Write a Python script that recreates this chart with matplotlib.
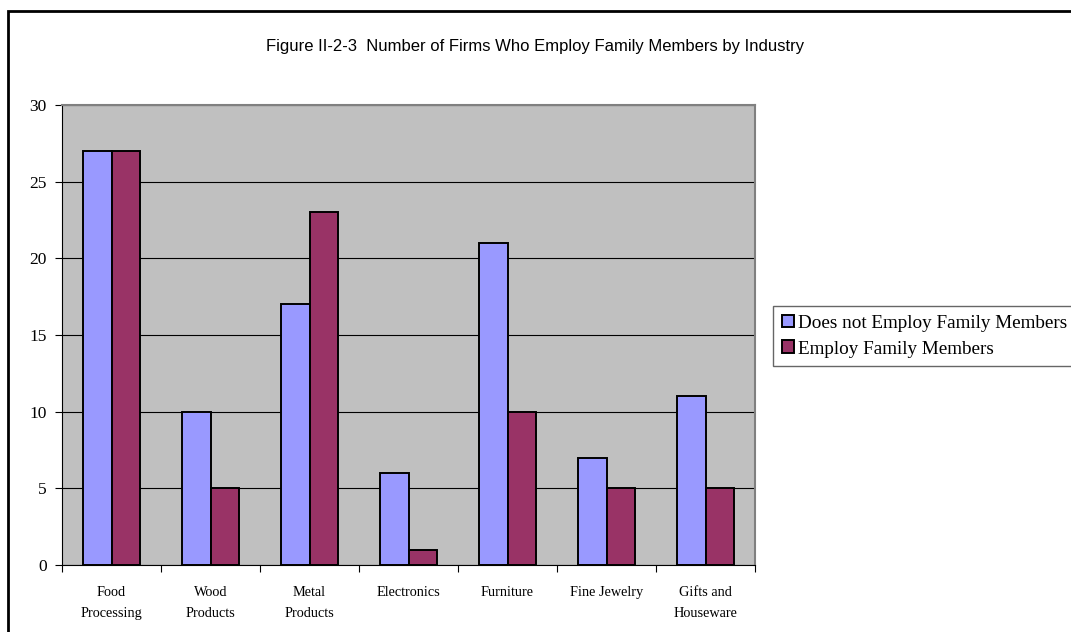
import numpy as np
import matplotlib
matplotlib.use("Agg")
import matplotlib.pyplot as plt
from matplotlib.patches import Rectangle

industries = ["Food\nProcessing", "Wood\nProducts", "Metal\nProducts", "Electronics",
              "Furniture", "Fine Jewelry", "Gifts and\nHouseware"]
not_employ = [27, 10, 17, 6, 21, 7, 11]
employ = [27, 5, 23, 1, 10, 5, 5]
series_names = ["Does not Employ Family Members", "Employ Family Members"]

serif = ["Liberation Serif", "DejaVu Serif"]
sans = ["Liberation Sans", "DejaVu Sans"]

fig = plt.figure(figsize=(10.71, 6.32), dpi=100)
ax = fig.add_axes([0.0579, 0.106, 0.6471, 0.728])

x = np.arange(len(industries))
w = 0.285
b1 = ax.bar(x - w / 2, not_employ, w, color="#9999FF", edgecolor="black", linewidth=1.4,
            label=series_names[0], zorder=3)
b2 = ax.bar(x + w / 2, employ, w, color="#993366", edgecolor="black", linewidth=1.4,
            label=series_names[1], zorder=3)

ax.set_facecolor("#C0C0C0")
ax.set_xlim(-0.5, len(industries) - 0.5)
ax.set_ylim(0, 30)
ax.set_yticks(range(0, 31, 5))
ax.yaxis.grid(True, color="black", linewidth=0.8, zorder=1)
ax.set_axisbelow(True)

# category boundaries carry the tick marks, labels sit at centres
ax.set_xticks(np.arange(-0.5, len(industries), 1.0))
ax.set_xticklabels([])
ax.set_xticks(x, minor=True)
ax.set_xticklabels(industries, minor=True, fontfamily=serif, fontsize=10.3, linespacing=1.8)
ax.tick_params(axis="x", which="minor", length=0, pad=15)
ax.tick_params(axis="x", which="major", length=5, width=0.8, direction="out")
ax.tick_params(axis="y", length=5, width=0.8, direction="out", pad=6)
for lab in ax.get_yticklabels():
    lab.set_fontfamily(serif)
    lab.set_fontsize(12.5)

for side in ["top", "right"]:
    ax.spines[side].set_color("#808080")
    ax.spines[side].set_linewidth(1.5)
ax.spines["left"].set_color("black")
ax.spines["bottom"].set_color("black")
ax.spines["left"].set_linewidth(0.8)
ax.spines["bottom"].set_linewidth(0.8)

fig.text(0.5, 1 - 46 / 632, "Figure II-2-3  Number of Firms Who Employ Family Members by Industry",
         ha="center", va="center", fontsize=12, fontfamily=sans)

leg = fig.legend(handles=[b1, b2], labels=series_names, loc="upper left",
                 bbox_to_anchor=(773 / 1071, 1 - 306 / 632),
                 prop={"family": serif, "size": 13.8}, fancybox=False,
                 edgecolor="#404040", handlelength=0.65, handleheight=0.65,
                 handletextpad=0.2, borderpad=0.45, labelspacing=0.45,
                 borderaxespad=0)
leg.get_frame().set_linewidth(1.0)

# outer chart border
fig.patches.append(Rectangle((8 / 1071, -0.1), 1.2, 1 - 11 / 632 + 0.1,
                             transform=fig.transFigure, fill=False,
                             edgecolor="black", linewidth=2))

fig.savefig("out.png", dpi=100)
